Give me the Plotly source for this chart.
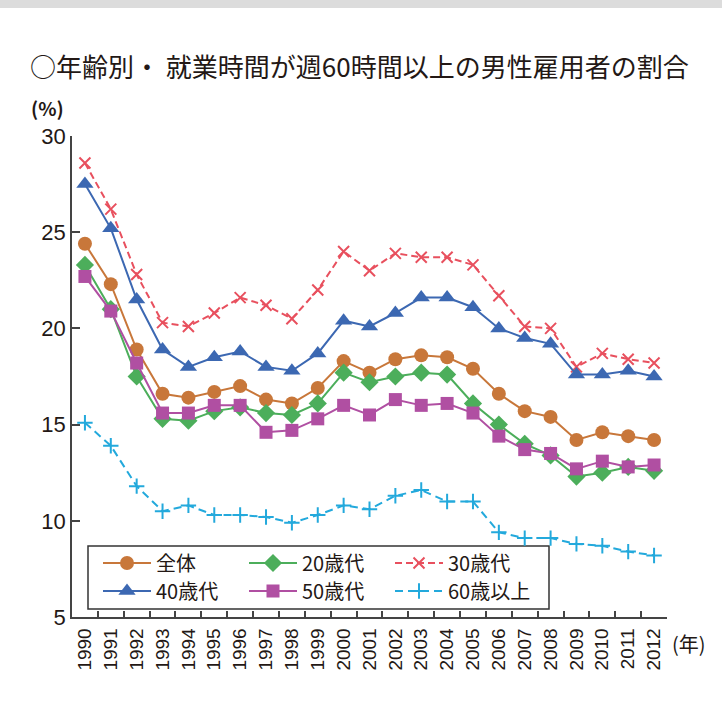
import plotly.graph_objects as go

years = [str(y) for y in range(1990, 2013)]

overall = [24.4, 22.3, 18.9, 16.6, 16.4, 16.7, 17.0, 16.3, 16.1, 16.9, 18.3, 17.7,
           18.4, 18.6, 18.5, 17.9, 16.6, 15.7, 15.4, 14.2, 14.6, 14.4, 14.2]
age20s = [23.3, 21.0, 17.5, 15.3, 15.2, 15.7, 15.9, 15.6, 15.5, 16.1, 17.7, 17.2,
          17.5, 17.7, 17.6, 16.1, 15.0, 14.0, 13.4, 12.3, 12.5, 12.8, 12.6]
age30s = [28.6, 26.2, 22.8, 20.3, 20.1, 20.8, 21.6, 21.2, 20.5, 22.0, 24.0, 23.0,
          23.9, 23.7, 23.7, 23.3, 21.7, 20.1, 20.0, 18.0, 18.7, 18.4, 18.2]
age40s = [27.5, 25.2, 21.5, 18.9, 18.0, 18.5, 18.8, 18.0, 17.8, 18.7, 20.4, 20.1,
          20.8, 21.6, 21.6, 21.1, 20.0, 19.5, 19.2, 17.6, 17.6, 17.8, 17.5]
age50s = [22.7, 20.9, 18.2, 15.6, 15.6, 16.0, 16.0, 14.6, 14.7, 15.3, 16.0, 15.5,
          16.3, 16.0, 16.1, 15.6, 14.4, 13.7, 13.5, 12.7, 13.1, 12.8, 12.9]
age60p = [15.1, 13.9, 11.8, 10.5, 10.8, 10.3, 10.3, 10.2, 9.9, 10.3, 10.8, 10.6,
          11.3, 11.6, 11.0, 11.0, 9.4, 9.1, 9.1, 8.8, 8.7, 8.4, 8.2]

names = ["全体", "20歳代", "30歳代", "40歳代", "50歳代", "60歳以上"]
series = [overall, age20s, age30s, age40s, age50s, age60p]
colors = ["#C8773A", "#4CAE5B", "#E8505E", "#3C68B2", "#B04FA2", "#23A9DC"]
symbols = ["circle", "diamond", "x-thin-open", "triangle-up", "square", "cross-thin-open"]
sizes = [14, 14, 11, 15, 13, 11]
dashes = ["solid", "solid", "7px,4px", "solid", "solid", "8px,5px"]
legends = ["legend", "legend", "legend", "legend2", "legend2", "legend2"]
# end-label vertical nudges (px) to avoid overlap
label_shift = [3, -8, 1, -4, 6, -1]

W, H = 722, 709
L, R, T, B = 72, 55, 136, 92
PW, PH = W - L - R, H - T - B

def px2paper_x(px):
    return (px - L) / PW

def px2paper_y(py):
    return (H - B - py) / PH

fig = go.Figure()
for name, vals, c, s, sz, d, lg in zip(names, series, colors, symbols, sizes, dashes, legends):
    fig.add_trace(go.Scatter(
        x=years, y=vals, name=name, mode="lines+markers",
        line=dict(color=c, width=2, dash=d),
        marker=dict(symbol=s, size=sz, color=c, line=dict(color=c, width=2 if "open" in s else 0)),
        legend=lg,
    ))

font_txt = "Liberation Sans, Arial, sans-serif"
font_num = "Liberation Sans Narrow, Arial Narrow, Liberation Sans, Arial, sans-serif"
font_jp = "Noto Sans CJK JP, sans-serif"
txt_col = "#231815"

annotations = []
for vals, sh in zip(series, label_shift):
    annotations.append(dict(
        x=years[-1], y=vals[-1], xref="x", yref="y", text=f"{vals[-1]:.1f}",
        showarrow=False, xanchor="left", yanchor="middle", xshift=14, yshift=sh,
        font=dict(family=font_num, size=22, color=txt_col),
    ))
annotations.append(dict(x=px2paper_x(29), y=px2paper_y(107), xref="paper", yref="paper",
                        text="<b>(%)</b>", showarrow=False, xanchor="left", yanchor="middle",
                        font=dict(family=font_jp, size=19, color=txt_col)))
annotations.append(dict(x=px2paper_x(670), y=px2paper_y(643), xref="paper", yref="paper",
                        text="(年)", showarrow=False, xanchor="left", yanchor="middle",
                        font=dict(family=font_jp, size=20, color=txt_col)))

shapes = [
    dict(type="rect", xref="paper", yref="paper", layer="below",
         x0=px2paper_x(88), x1=px2paper_x(549), y0=px2paper_y(609), y1=px2paper_y(546),
         line=dict(color="#333333", width=1.5), fillcolor="white"),
    dict(type="rect", xref="paper", yref="paper", layer="below",
         x0=px2paper_x(0), x1=px2paper_x(W), y0=px2paper_y(8), y1=px2paper_y(0),
         line=dict(width=0), fillcolor="#DCDCDC"),
]

leg_common = dict(orientation="h", xref="paper", yref="paper",
                  xanchor="left", yanchor="middle",
                  bgcolor="rgba(0,0,0,0)", borderwidth=0,
                  entrywidth=83, entrywidthmode="pixels", itemwidth=48,
                  font=dict(family=font_jp, size=20, color=txt_col), traceorder="normal")

fig.update_layout(
    width=W, height=H,
    margin=dict(l=L, r=R, t=T, b=B, autoexpand=False),
    paper_bgcolor="white", plot_bgcolor="white",
    title=dict(text="○年齢別・ 就業時間が週60時間以上の男性雇用者の割合",
               x=30 / W, xanchor="left", y=1 - 68 / H, yanchor="middle",
               font=dict(family=font_jp, size=26, color=txt_col)),
    xaxis=dict(type="category", range=[-0.5, 22.5], tickson="boundaries",
               ticks="inside", ticklen=6, tickcolor="#444", tickwidth=1.5,
               showline=True, linecolor="#444", linewidth=1.5, showgrid=False,
               tickangle=-90, ticklabelstandoff=2,
               tickfont=dict(family=font_txt, size=19, color=txt_col)),
    yaxis=dict(range=[5, 30], dtick=5, tick0=5, ticks="inside", ticklen=8,
               tickcolor="#444", tickwidth=1.5, showline=True, linecolor="#444",
               linewidth=1.5, showgrid=False, zeroline=False,
               tickfont=dict(family=font_num, size=22, color=txt_col)),
    legend=dict(leg_common, x=px2paper_x(98), y=px2paper_y(563)),
    legend2=dict(leg_common, x=px2paper_x(98), y=px2paper_y(591)),
    annotations=annotations,
    shapes=shapes,
)

fig.write_html("out.html", config={"displayModeBar": False},
               post_script="document.body.style.margin='0';document.body.style.overflow='hidden';")
